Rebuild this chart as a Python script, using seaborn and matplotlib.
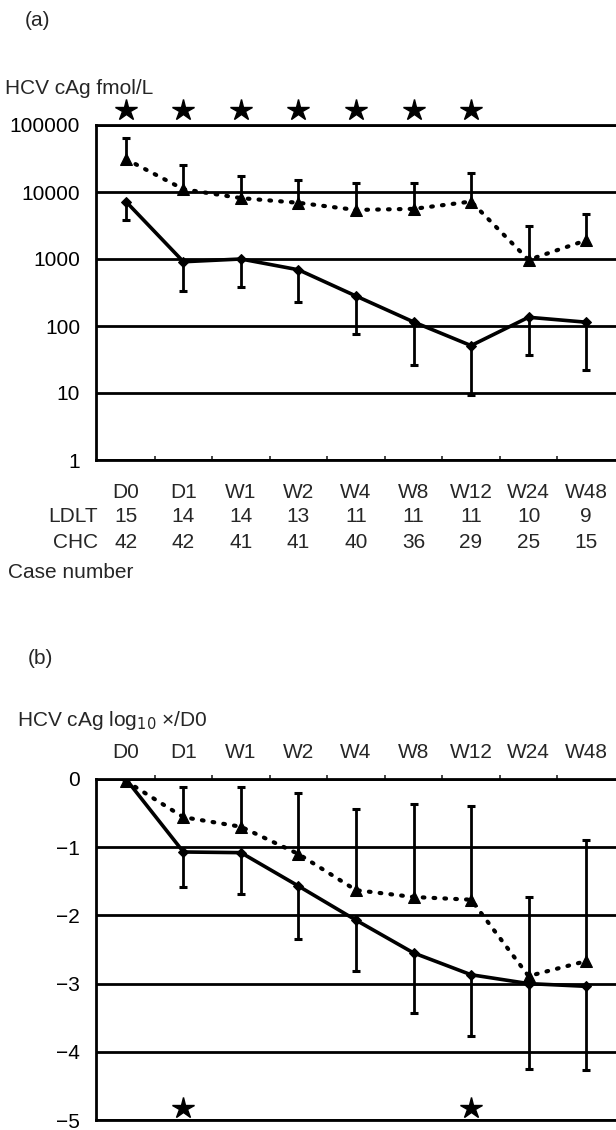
import numpy as np
import pandas as pd
import matplotlib
matplotlib.use("Agg")
import matplotlib.pyplot as plt
import matplotlib.transforms as mtransforms
from matplotlib.ticker import FixedLocator, FixedFormatter, NullLocator
import seaborn as sns

# ---------------- data ----------------
timepoints = ["D0", "D1", "W1", "W2", "W4", "W8", "W12", "W24", "W48"]
ldlt_n = [15, 14, 14, 13, 11, 11, 11, 10, 9]
chc_n = [42, 42, 41, 41, 40, 36, 29, 25, 15]

# panel (a): HCV cAg fmol/L
ldlt_a_mean = [7200, 910, 1000, 690, 280, 115, 51, 135, 114]
ldlt_a_lower = [3800, 330, 385, 225, 76, 26, 9.4, 37, 22]
chc_a_mean = [31000, 11000, 8100, 6900, 5400, 5600, 7200, 970, 1900]
chc_a_upper = [64000, 25000, 17500, 15000, 13600, 13600, 19000, 3150, 4750]
stars_a = ["D0", "D1", "W1", "W2", "W4", "W8", "W12"]
a_ticks = [1, 10, 100, 1000, 10000, 100000]
a_ticklabels = ["1", "10", "100", "1000", "10000", "100000"]

# panel (b): log10 change from D0
ldlt_b_mean = [0.0, -1.07, -1.08, -1.57, -2.07, -2.55, -2.87, -3.00, -3.04]
ldlt_b_lower = [0.0, -1.59, -1.68, -2.35, -2.82, -3.43, -3.77, -4.25, -4.27]
chc_b_mean = [-0.03, -0.56, -0.70, -1.10, -1.63, -1.73, -1.77, -2.89, -2.67]
chc_b_upper = [-0.03, -0.12, -0.11, -0.21, -0.44, -0.37, -0.40, -1.73, -0.90]
stars_b = ["D1", "W12"]
b_ticks = [0, -1, -2, -3, -4, -5]
b_ticklabels = ["0", "\u22121", "\u22122", "\u22123", "\u22124", "\u22125"]

# ---------------- style ----------------
sns.set_style("white")
plt.rcParams["font.family"] = ["Liberation Sans", "DejaVu Sans"]
FS = 15

W, H = 616, 1130
fig = plt.figure(figsize=(W / 100, H / 100), dpi=100)


def fx(x):
    return x / W


def fy(y):
    return 1 - y / H


LEFT = 96
XMIN, XMAX = -0.52, 8.52
pos = np.arange(len(timepoints))
idx = {t: i for i, t in enumerate(timepoints)}


def draw_series(ax, mean, bar_end, marker, ms, dotted):
    df = pd.DataFrame({"pos": pos, "value": mean})
    kw = dict(color="black", linewidth=2.6, marker=marker, markersize=ms,
              markeredgecolor="black", markerfacecolor="black", zorder=4)
    if dotted:
        kw.update(linewidth=3.0, linestyle=(0, (0.4, 2.2)),
                  dash_capstyle="round")
    sns.lineplot(data=df, x="pos", y="value", ax=ax, legend=False,
                 errorbar=None, **kw)
    m = np.asarray(mean, float)
    e = np.asarray(bar_end, float)
    keep = np.abs(e - m) > 1e-9
    lo = np.where(e < m, m - e, 0)
    hi = np.where(e > m, e - m, 0)
    _, caps, _ = ax.errorbar(pos[keep], m[keep], yerr=[lo[keep], hi[keep]],
                             fmt="none", ecolor="black", elinewidth=2.0,
                             capsize=3.2, capthick=2.2, zorder=3)
    for c in caps:
        yd = np.asarray(c.get_ydata(), float)
        if np.allclose(yd, m[keep]):
            c.set_visible(False)


def style_axes(ax):
    ax.set_xlim(XMIN, XMAX)
    for s in ["left", "top", "bottom"]:
        ax.spines[s].set_visible(True)
        ax.spines[s].set_color("black")
        ax.spines[s].set_linewidth(2.0)
    ax.spines["right"].set_visible(False)
    ax.yaxis.grid(True, color="black", linewidth=2.0)
    ax.xaxis.grid(False)
    ax.set_axisbelow(True)
    ax.set_xlabel("")
    ax.set_ylabel("")
    ax.set_xticks(pos)
    ax.set_xticklabels([])
    ax.set_xticks(np.arange(0.5, 8.5, 1), minor=True)
    ax.tick_params(axis="x", which="major", length=0)
    ax.tick_params(axis="y", which="both", length=0, pad=11.5, labelsize=FS,
                   colors="black")
    ax.patch.set_alpha(0)


# ---------------- panel (a) ----------------
a_top, a_bot = 125, 460
ax_a = fig.add_axes([fx(LEFT), fy(a_bot), 1 - fx(LEFT), (a_bot - a_top) / H])
ax_a.set_yscale("log")
draw_series(ax_a, ldlt_a_mean, ldlt_a_lower, "D", 5, False)
draw_series(ax_a, chc_a_mean, chc_a_upper, "^", 8.5, True)
style_axes(ax_a)
ax_a.set_ylim(1, 100000)
ax_a.yaxis.set_major_locator(FixedLocator(a_ticks))
ax_a.yaxis.set_major_formatter(FixedFormatter(a_ticklabels))
ax_a.yaxis.set_minor_locator(NullLocator())
ax_a.tick_params(axis="x", which="minor", direction="in", length=3,
                 width=1.2, bottom=True, top=False)

tr_a = mtransforms.blended_transform_factory(ax_a.transData, fig.transFigure)
ax_a.plot([idx[s] for s in stars_a], [fy(110)] * len(stars_a), "*",
          color="black", markersize=16, transform=tr_a, clip_on=False)
for i, t in enumerate(timepoints):
    ax_a.text(i, fy(492), t, transform=tr_a, ha="center", va="center",
              fontsize=FS)
    ax_a.text(i, fy(517), str(ldlt_n[i]), transform=tr_a, ha="center",
              va="center", fontsize=FS)
    ax_a.text(i, fy(543), str(chc_n[i]), transform=tr_a, ha="center",
              va="center", fontsize=FS)
fig.text(fx(98), fy(517), "LDLT", ha="right", va="center", fontsize=FS)
fig.text(fx(98), fy(543), "CHC", ha="right", va="center", fontsize=FS)
fig.text(fx(8), fy(572), "Case number", ha="left", va="center", fontsize=FS)
fig.text(fx(25), fy(20), "(a)", ha="left", va="center", fontsize=FS)
fig.text(fx(5), fy(88), "HCV cAg fmol/L", ha="left", va="center", fontsize=FS)

# ---------------- panel (b) ----------------
b_top, b_bot = 779, 1120
ax_b = fig.add_axes([fx(LEFT), fy(b_bot), 1 - fx(LEFT), (b_bot - b_top) / H])
draw_series(ax_b, ldlt_b_mean, ldlt_b_lower, "D", 5, False)
draw_series(ax_b, chc_b_mean, chc_b_upper, "^", 8.5, True)
style_axes(ax_b)
ax_b.set_ylim(-5, 0)
ax_b.yaxis.set_major_locator(FixedLocator(b_ticks))
ax_b.yaxis.set_major_formatter(FixedFormatter(b_ticklabels))
ax_b.tick_params(axis="x", which="minor", direction="out", length=3,
                 width=1.2, bottom=False, top=True)

ax_b.plot([idx[s] for s in stars_b], [-4.83] * len(stars_b), "*",
          color="black", markersize=16, clip_on=False, zorder=5)
tr_b = mtransforms.blended_transform_factory(ax_b.transData, fig.transFigure)
for i, t in enumerate(timepoints):
    ax_b.text(i, fy(753), t, transform=tr_b, ha="center", va="center",
              fontsize=FS)
fig.text(fx(28), fy(658), "(b)", ha="left", va="center", fontsize=FS)
fig.text(fx(17), fy(720), "HCV cAg log$_{10}$ \u00d7/D0", ha="left",
         va="center", fontsize=FS)

fig.savefig("out.png", dpi=100)
